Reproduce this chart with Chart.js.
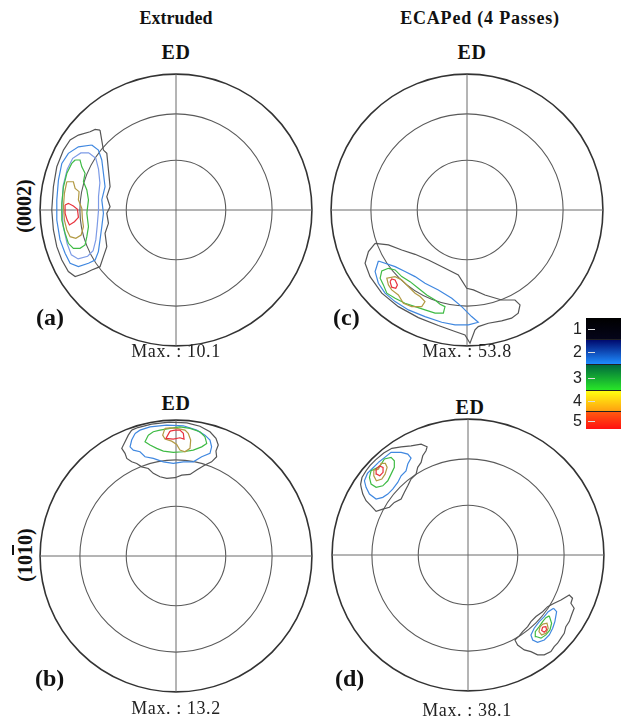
<!DOCTYPE html>
<html>
<head>
<meta charset="utf-8">
<script src="https://cdn.jsdelivr.net/npm/chart.js@4.4.1/dist/chart.umd.min.js"></script>
<style>
  body { margin: 0; background: #fff; width: 621px; height: 723px; position: relative; overflow: hidden;
         font-family: "Liberation Serif", "Times New Roman", serif; color: #111; }
  canvas { position: absolute; }
  .t { position: absolute; white-space: nowrap; transform: translate(-50%, -50%); line-height: 1; }
  .title { font-size: 18px; font-weight: bold; }
  .ed { font-size: 20px; font-weight: bold; letter-spacing: 0.5px; }
  .tag { font-size: 24px; font-weight: bold; transform: translate(0, -50%); }
  .max { font-size: 18px; letter-spacing: 0.6px; color: #222; }
  .plane { font-size: 20px; font-weight: bold; transform: translate(-50%, -50%) rotate(-90deg); }
  .ov { text-decoration: overline; }
  #cbar { position: absolute; left: 586px; top: 318px; width: 35px; }
  #cbar .band { position: relative; }
  #cbar .tick { position: absolute; left: 2px; width: 7px; height: 1px; background: #ddd; }
  #cbar .cbl { position: absolute; right: 39px; font-family: "Liberation Sans", Arial, sans-serif; font-size: 16px;
               color: #222; transform: translate(0, -50%); line-height: 1; }
</style>
</head>
<body>

<div class="t title" style="left:176px;top:18px">Extruded</div>
<div class="t title" style="left:480px;top:18px;letter-spacing:0.8px">ECAPed (4 Passes)</div>

<div class="t ed" style="left:176px;top:52px">ED</div>
<div class="t ed" style="left:472px;top:52px">ED</div>
<div class="t ed" style="left:176px;top:403px">ED</div>
<div class="t ed" style="left:470px;top:407px">ED</div>

<div class="t plane" style="left:24px;top:206px">(0002)</div>
<div class="t plane" style="left:25px;top:555px">(10<span class="ov">1</span>0)</div>

<canvas id="pfA" width="280" height="280" style="left:36px;top:70px"></canvas>
<canvas id="pfC" width="280" height="280" style="left:327px;top:70px"></canvas>
<canvas id="pfB" width="280" height="280" style="left:36px;top:416px"></canvas>
<canvas id="pfD" width="280" height="280" style="left:328px;top:415px"></canvas>

<div class="t tag" style="left:36px;top:317px">(a)</div>
<div class="t tag" style="left:333px;top:317px">(c)</div>
<div class="t tag" style="left:35px;top:678px">(b)</div>
<div class="t tag" style="left:335px;top:678px">(d)</div>

<div class="t max" id="maxA" style="left:176px;top:351px"></div>
<div class="t max" id="maxC" style="left:467px;top:351px"></div>
<div class="t max" id="maxB" style="left:176px;top:708px"></div>
<div class="t max" id="maxD" style="left:467px;top:710px"></div>

<div id="cbar"></div>

<script>
// Pole figure values (equal-area projection, radius = 100)
const ringRadii = [100, 70.7, 36.6];          // outer rim, 60 deg, 30 deg
const levels = [1, 2, 3, 4, 5];
const panelMax = { A: 10.1, B: 13.2, C: 53.8, D: 38.1 };

// (a) Extruded (0002)
const pfA_L1 = [[-55.9,58.8],[-53.4,44.1],[-50.9,41.7],[-49.7,29.4],[-48.5,17.1],[-50.9,9.8],[-48.5,2.4],[-50.9,-2.4],
  [-49.7,-9.8],[-52.2,-17.1],[-50.9,-27],[-53.4,-34.3],[-55.9,-41.7],[-62,-44.1],[-66.9,-46.5],[-74.2,-49],[-79.2,-45.3],
  [-84,-36.8],[-87.7,-27],[-90.2,-14.7],[-91.4,0],[-90.2,17.1],[-87.7,31.8],[-82.8,44.1],[-77.9,51.5],[-71.8,55.1],
  [-63.2,57.6],[-59.5,59.3]];
const pfA_L2 = [[-62,47.8],[-57.1,44.1],[-54.6,36.8],[-53.4,27],[-52.2,17.1],[-54.6,7.4],[-53.4,-2.4],[-54.6,-12.3],
  [-55.9,-22],[-57.1,-30.6],[-59.5,-36.8],[-64.4,-39.2],[-71.8,-41.7],[-77.9,-39.2],[-81.6,-31.8],[-85.3,-22],
  [-87.7,-7.4],[-87.7,7.4],[-86.5,22],[-84,34.3],[-79.2,41.7],[-71.8,46.5]];
const pfA_L2b = [[-64,42],[-59,38],[-57,30],[-56,20],[-57,10],[-57,0],[-58,-12],[-59,-22],[-61,-30],[-65,-34],[-72,-36],
  [-77,-33],[-80,-25],[-83,-12],[-84,2],[-83,18],[-80,30],[-76,38],[-70,42]];
const pfA_L3 = [[-74.2,36.8],[-70.6,36.8],[-69.3,31.8],[-66.9,27],[-68.1,20.8],[-65.6,14.7],[-64.4,7.4],[-65.6,-2.4],
  [-64.4,-12.3],[-65.6,-19.6],[-66.9,-25.7],[-70.6,-28.2],[-75.5,-28.2],[-79.2,-24.5],[-81.6,-17.1],[-84,-7.4],
  [-84,4.9],[-82.8,17.1],[-80.3,27],[-76.7,34.3]];
const pfA_L4 = [[-80.3,20.8],[-75.5,20.8],[-74.2,15.9],[-71.3,13.5],[-71.8,7.4],[-69.3,1.2],[-68.9,-6.1],[-68.1,-12.3],
  [-69.8,-18.4],[-73.7,-20.8],[-77.9,-19.6],[-80.3,-14.7],[-82.1,-7.4],[-82.8,2.4],[-82.1,12.3]];
const pfA_L5 = [[-81.6,3.7],[-79.2,4.9],[-75.5,2.9],[-72.5,0.5],[-71.8,-5.4],[-74.7,-8.6],[-78.4,-11],[-80.1,-7.4],[-81.6,-2.4]];

// (b) Extruded (10-10)
const pfB_L1 = [[-32.6,92.6],[-35.1,88.9],[-37.5,84],[-39.9,79.2],[-37.5,75.5],[-36.2,71.8],[-32.6,69.3],[-28.9,68.1],
  [-25.2,65.6],[-20.4,64.4],[-16.7,60.8],[-11.8,58.3],[-6.8,57.1],[-0.7,57.6],[4.2,59.5],[10.3,60],[15.2,63.2],
  [21.3,66.9],[26.2,69.3],[29.9,73],[29.4,77.2],[31.1,81.6],[29.4,86.5],[25,91.4],[17.6,95.5],[8,98],[-5,98.5],
  [-18,97],[-28,94.5]];
const pfB_L2 = [[-30.1,90.2],[-32.6,85.3],[-33.8,80.3],[-31.4,77.9],[-26.5,76.7],[-22.8,73],[-16.7,71.8],[-9.3,69.3],
  [-2,68.1],[5.4,69.3],[12.7,69.3],[18.9,73],[25,75.5],[26.2,80.3],[25,85.3],[21.3,88.9],[15.2,92.6],[5.4,95.8],
  [-6.8,96.3],[-19.1,95],[-26.5,92.6]];
const pfB_L3 = [[-20.4,88.9],[-22.8,84],[-19.1,81.6],[-14.2,79.2],[-9.3,77.2],[-2,76.2],[5.4,76.7],[12.7,77.9],
  [18.9,80.3],[22.6,82.8],[21.3,87.7],[17.6,91.4],[10.3,93.9],[2.9,95],[-4.4,93.9],[-11.8,92.6],[-16.7,91.4]];
const pfB_L4 = [[-8.1,93.9],[-9.8,88.9],[-8.1,86],[-3.2,84.5],[0.5,82.1],[2.9,77.9],[6.6,76.7],[10.3,79.2],[10.8,85.3],
  [9,90.2],[6.6,92.6],[0.5,93.9],[-4.4,94.3]];
const pfB_L5 = [[-4.4,91.9],[-7.4,86.5],[-2,86],[2.9,87],[5.9,86],[5.4,90.2],[2.9,92.6],[-0.7,92.6]];

// (c) ECAPed (0002)
const pfC_L1 = [[-67.6,-24.5],[-57.8,-25.7],[-48,-29.4],[-38.2,-32.6],[-28.4,-36.8],[-16.2,-42.9],[-6.4,-47.8],
  [-0.2,-57.6],[4.7,-58.8],[13.2,-62.5],[25.5,-66.2],[35.3,-66.2],[39,-69.8],[37.7,-75.9],[32.8,-79.6],[25.5,-81.6],
  [15.7,-83.3],[8.3,-85.8],[5.9,-88.2],[2.2,-98],[-1.5,-91.9],[-8.8,-89.4],[-21.1,-85],[-35.8,-79.2],[-50.5,-71.1],
  [-62.7,-61.2],[-71.3,-49],[-75,-39.2],[-72.5,-30.6]];
const pfC_L2 = [[-65.2,-37.5],[-52.9,-41.7],[-45.6,-45.3],[-38.2,-49],[-30.9,-53.9],[-21.1,-58.8],[-11.2,-64.9],
  [-3.9,-71.1],[3.4,-78.4],[8.3,-82.6],[1,-84.5],[-8.8,-84.5],[-18.6,-82.6],[-30.9,-78.4],[-43.1,-73.5],
  [-52.9,-67.4],[-60.3,-61.2],[-65.2,-53.9],[-67.6,-45.3]];
const pfC_L3 = [[-57.8,-42.9],[-62.7,-44.8],[-63.9,-50.2],[-61.5,-55.1],[-59,-61.2],[-52.9,-64.9],[-45.6,-68.6],
  [-38.2,-71.1],[-30.9,-73.5],[-23.5,-75.9],[-17.4,-75.9],[-16.2,-71.1],[-19.8,-69.3],[-23.5,-66.2],[-29.6,-62.5],
  [-35.8,-57.6],[-41.9,-52.7],[-48,-49],[-52.9,-44.1]];
const pfC_L4 = [[-52.9,-49],[-59,-50.2],[-57.8,-55.1],[-55.4,-58.8],[-50.5,-62.5],[-46.8,-68.6],[-40.7,-71.1],
  [-33.3,-71.1],[-30.9,-67.4],[-34.5,-63.7],[-38.2,-61.2],[-41.9,-57.6],[-45.6,-53.9],[-48,-51.5]];
const pfC_L5 = [[-56.6,-52.7],[-55.4,-56.8],[-52.4,-57.6],[-51.2,-55.1],[-52.9,-51.5],[-55.4,-50.7]];

// (d) ECAPed (10-10), upper-left component
const pfD_L1a = [[-68,70],[-62,75],[-56,78.5],[-49.2,79.6],[-41.9,80.3],[-34.5,81.6],[-30.1,79.6],[-30.9,76.7],
  [-33.3,73],[-34.5,68.1],[-37,64.5],[-38.2,59.5],[-41.9,55.9],[-44.3,50.9],[-46.8,46.1],[-49.2,41.2],[-54.2,38.7],
  [-57.8,35.1],[-62.7,33.8],[-67.6,32.1],[-71.3,36.2],[-75,39.9],[-77.4,44.8],[-78.6,49.8],[-79,52],[-78,57],
  [-75,62],[-72,66]];
const pfD_L2a = [[-66,68],[-61,72],[-56.6,75.5],[-49.2,75.5],[-44.3,74.2],[-41.9,71.3],[-44.3,66.9],[-45.6,61.9],
  [-49.2,58.3],[-51.7,53.4],[-55.4,48.5],[-59,44.8],[-62.7,42.4],[-67.6,41.2],[-72.5,44.8],[-75,49.8],[-76.2,54.6],
  [-74,60],[-70,64]];
const pfD_L3a = [[-65,65],[-61.5,70.6],[-56.6,71.8],[-54.2,69.3],[-54.2,64.5],[-56.6,59.5],[-59,54.6],[-62.7,50.9],
  [-67.6,49.8],[-71.3,52.2],[-72.5,57.1],[-71.3,62]];
const pfD_L4a = [[-66,63],[-63.9,67.4],[-60.8,67.4],[-59.5,64.5],[-61,59.5],[-63.4,55.9],[-67.4,54.6],[-69.3,58.3],[-69.3,62.5]];
const pfD_L5a = [[-67.6,63.2],[-65.2,65.6],[-62.5,64.5],[-62.5,60.8],[-64.9,58.3],[-67.1,59.5]];

// (d) lower-right component
const pfD_L1b = [[68.4,-33.1],[74.5,-29.4],[76.9,-31.8],[75.7,-35.5],[78.1,-39.2],[76.2,-44.1],[74.5,-49],[72,-52.7],
  [70.8,-57.6],[68.4,-61.2],[65.9,-64.9],[63.4,-67.4],[61,-71.1],[56.1,-73.5],[51.2,-73.5],[46.3,-71.1],[41.4,-69.8],
  [36.5,-66.2],[34.5,-62.5],[37.7,-59.5],[40.2,-56.4],[43.9,-52.7],[46.3,-49],[50,-45.3],[54.9,-41.7],[58.6,-38],
  [63.4,-35.5]];
const pfD_L2b = [[63,-39.2],[65.2,-41.7],[63.9,-49],[62.3,-53.9],[59.8,-58.8],[56.1,-62.5],[51.2,-64.2],[47.6,-62.5],
  [46.3,-58.8],[48.7,-53.9],[52.4,-49],[56.1,-45.3],[59,-41.7]];
const pfD_L3b = [[59.8,-44.8],[61.5,-50.2],[60.3,-55.1],[57.3,-58.8],[53.7,-61.2],[50,-60],[49.5,-56.4],[52.4,-52.7],
  [54.9,-49],[57.3,-46.1]];
const pfD_L4b = [[54.9,-50.9],[58.1,-50.2],[59,-53.9],[57.3,-57.6],[54.2,-58.8],[52.2,-56.4],[52.9,-53.1]];
const pfD_L5b = [[54.9,-53.1],[57.3,-52.7],[57.8,-55.1],[56.1,-56.8],[54.2,-55.6]];

// styling per level
const levelColors = { 1: '#555555', 2: '#4088e0', 2.5: '#7d9be6', 3: '#3fbb45', 4: '#b29a44', 5: '#e8323c' };

function contour(points, level) {
  const closed = points.concat([points[0]]);
  return {
    data: closed.map(p => ({ x: p[0], y: p[1] })),
    showLine: true,
    fill: false,
    tension: 0,
    borderColor: levelColors[level],
    borderWidth: 1.2,
    pointRadius: 0,
    order: 10 - level
  };
}

const framePlugin = {
  id: 'frame',
  beforeDatasetsDraw(chart) {
    const { ctx, scales: { x, y } } = chart;
    const cx = x.getPixelForValue(0), cy = y.getPixelForValue(0);
    ctx.save();
    ringRadii.forEach((r, i) => {
      const rp = x.getPixelForValue(r) - cx;
      ctx.beginPath();
      ctx.arc(cx, cy, rp, 0, Math.PI * 2);
      ctx.lineWidth = i === 0 ? 1.6 : 1.1;
      ctx.strokeStyle = i === 0 ? '#333' : '#5a5a5a';
      ctx.stroke();
    });
    ctx.beginPath();
    ctx.moveTo(x.getPixelForValue(-ringRadii[0]), cy);
    ctx.lineTo(x.getPixelForValue(ringRadii[0]), cy);
    ctx.moveTo(cx, y.getPixelForValue(ringRadii[0]));
    ctx.lineTo(cx, y.getPixelForValue(-ringRadii[0]));
    ctx.lineWidth = 1;
    ctx.strokeStyle = '#6a6a6a';
    ctx.stroke();
    ctx.restore();
  }
};

function drawPole(id, datasets) {
  new Chart(document.getElementById(id), {
    type: 'scatter',
    data: { datasets: datasets },
    options: {
      responsive: false,
      animation: false,
      events: [],
      layout: { padding: 0 },
      plugins: { legend: { display: false }, tooltip: { enabled: false } },
      scales: {
        x: { type: 'linear', min: -103, max: 103, display: false },
        y: { type: 'linear', min: -103, max: 103, display: false }
      }
    },
    plugins: [framePlugin]
  });
}

drawPole('pfA', [contour(pfA_L1, 1), contour(pfA_L2, 2), contour(pfA_L2b, 2.5), contour(pfA_L3, 3),
                 contour(pfA_L4, 4), contour(pfA_L5, 5)]);
drawPole('pfB', [contour(pfB_L1, 1), contour(pfB_L2, 2), contour(pfB_L3, 3), contour(pfB_L4, 4), contour(pfB_L5, 5)]);
drawPole('pfC', [contour(pfC_L1, 1), contour(pfC_L2, 2), contour(pfC_L3, 3), contour(pfC_L4, 4), contour(pfC_L5, 5)]);
drawPole('pfD', [contour(pfD_L1a, 1), contour(pfD_L2a, 2), contour(pfD_L3a, 3), contour(pfD_L4a, 4), contour(pfD_L5a, 5),
                 contour(pfD_L1b, 1), contour(pfD_L2b, 2), contour(pfD_L3b, 3), contour(pfD_L4b, 4), contour(pfD_L5b, 5)]);

Object.keys(panelMax).forEach(k => {
  document.getElementById('max' + k).textContent = 'Max. : ' + panelMax[k];
});

// colour scale legend
const bandStops = [
  ['#000000', '#05051a'],
  ['#000a6e', '#1e8cff'],
  ['#006a3c', '#28e628'],
  ['#ffff10', '#ffa010'],
  ['#ff5a10', '#ff1010']
];
const bandHeights = [21, 24, 25, 20, 17];
const cbar = document.getElementById('cbar');
levels.forEach((lv, i) => {
  const band = document.createElement('div');
  band.className = 'band';
  band.style.height = bandHeights[i] + 'px';
  band.style.background = 'linear-gradient(' + bandStops[i][0] + ',' + bandStops[i][1] + ')';
  band.style.borderTop = i > 0 ? '1px solid #222' : 'none';
  const mid = Math.round(bandHeights[i] / 2) + 'px';
  const tick = document.createElement('div');
  tick.className = 'tick';
  tick.style.top = mid;
  band.appendChild(tick);
  const lab = document.createElement('div');
  lab.className = 'cbl';
  lab.style.top = mid;
  lab.textContent = lv;
  band.appendChild(lab);
  cbar.appendChild(band);
});
</script>
</body>
</html>
